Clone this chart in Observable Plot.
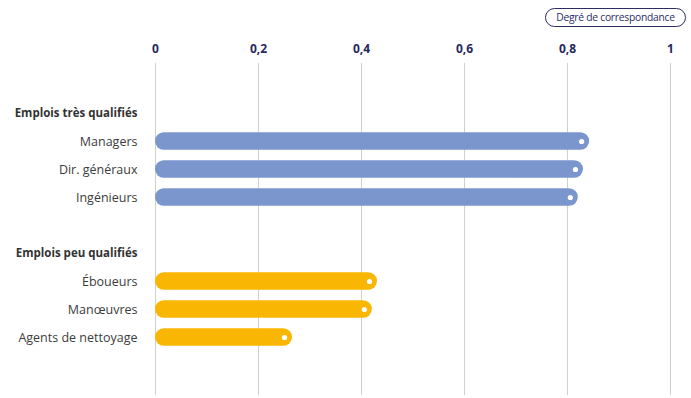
<!DOCTYPE html>
<html><head><meta charset="utf-8">
<script src="https://cdn.jsdelivr.net/npm/d3@7"></script>
<script src="https://cdn.jsdelivr.net/npm/@observablehq/plot@0.6"></script>
<style>
body{margin:0;background:#fff;font-family:"Open Sans","Noto Sans",sans-serif;}
#wrap{position:relative;width:691px;height:398px;}
#legend{position:absolute;left:545px;top:8px;width:141px;height:19px;box-sizing:border-box;border:1.3px solid #2b2d62;border-radius:10px;font-size:10.3px;letter-spacing:-0.25px;color:#2b2d62;text-align:center;line-height:16px;}
</style></head>
<body><div id="wrap"><div id="legend">Degré de correspondance</div></div>
<script>
const rows = ["h1","Managers","Dir. généraux","Ingénieurs","gap","h2","Éboueurs","Manœuvres","Agents de nettoyage"];
const headers = [{key:"h1", label:"Emplois très qualifiés"},{key:"h2", label:"Emplois peu qualifiés"}];
const jobs = ["Managers","Dir. généraux","Ingénieurs","Éboueurs","Manœuvres","Agents de nettoyage"];
const values = [0.843,0.831,0.821,0.431,0.421,0.266];
const groups = ["haut","haut","haut","bas","bas","bas"];
const xTicks = [0,0.2,0.4,0.6,0.8,1];

const data = jobs.map((j,i)=>({job:j, value:values[i], group:groups[i]}));

const chart = Plot.plot({
  width: 691, height: 398,
  marginTop: 63, marginBottom: 3, marginLeft: 155, marginRight: 21,
  style:{fontFamily:"'Open Sans', 'Noto Sans', sans-serif", background:"transparent"},
  x:{domain:[0,1], axis:null},
  y:{type:"band", domain: rows, range:[99,351], padding:0, axis:null},
  color:{domain:["haut","bas"], range:["#7b96cd","#f9b602"]},
  marks:[
    Plot.gridX(xTicks, {stroke:"#d0d0d0", strokeOpacity:1, strokeWidth:1}),
    Plot.axisX(xTicks, {anchor:"top", tickSize:0, tickPadding:11, tickFormat: d => String(d).replace(".", ","), fontSize:12, fontWeight:"bold", fill:"#26285e", label:null}),
    Plot.barX(data, {y:"job", x1:0, x2:"value", fill:"group", rx:8.7, insetTop:5.2, insetBottom:5.2}),
    Plot.dot(data, {y:"job", x:"value", dx:-8, r:2.6, fill:"white"}),
    Plot.text(data, {y:"job", x:0, dx:-18, text:"job", textAnchor:"end", fontSize:12.5, fill:"#3c3c3c"}),
    Plot.text(headers, {y:"key", x:0, dx:-18, text:"label", textAnchor:"end", fontSize:11.5, fontWeight:"bold", fill:"#333"})
  ]
});
document.getElementById("wrap").prepend(chart);
</script></body></html>
